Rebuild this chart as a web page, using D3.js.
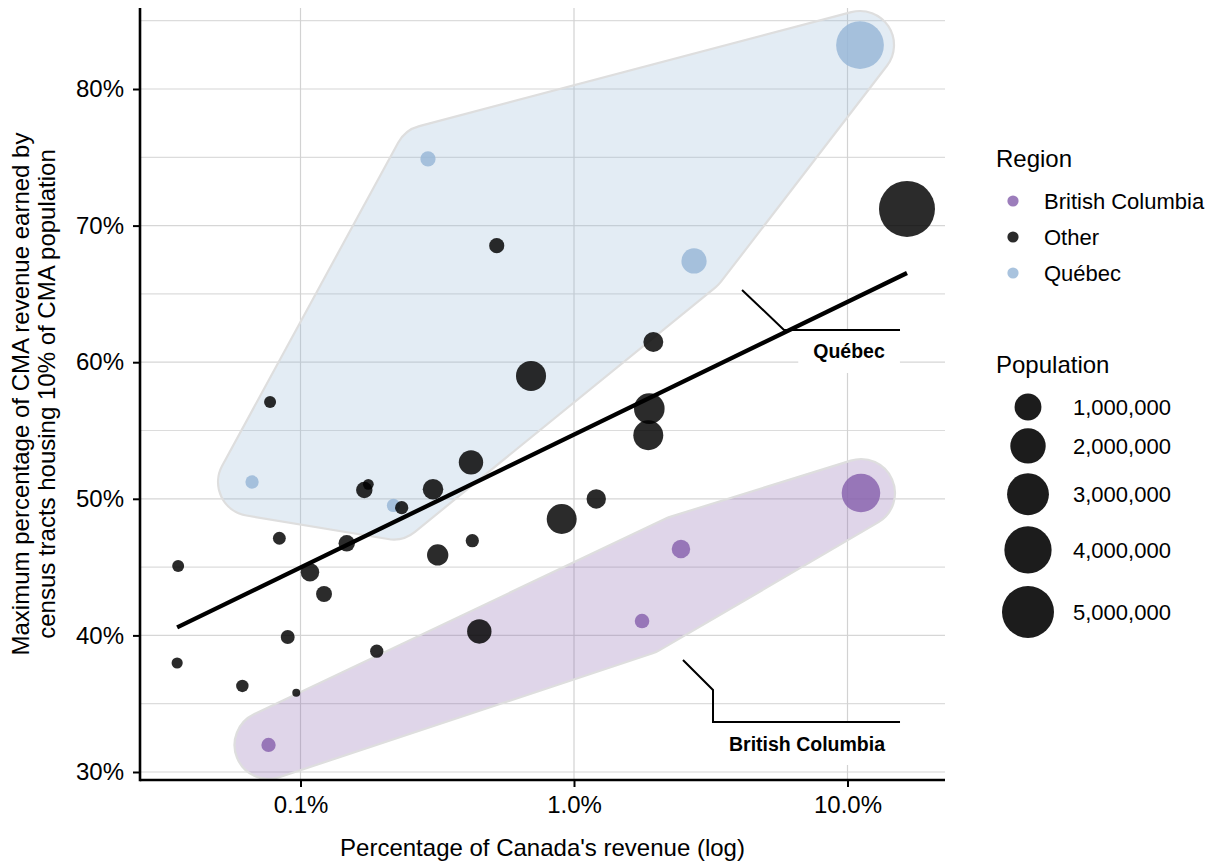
<!DOCTYPE html>
<html>
<head>
<meta charset="utf-8">
<script src="https://cdn.jsdelivr.net/npm/d3@7"></script>
<style>
  html, body { margin: 0; padding: 0; background: #fff; }
  svg { display: block; font-family: "Liberation Sans", Arial, Helvetica, sans-serif; }
</style>
</head>
<body>
<svg id="chart" width="1214" height="863"></svg>
<script>
// ---------------- data ----------------
const regions = ["British Columbia", "Other", "Québec"];
const regionColors = ["#8863ad", "#000000", "#97b7d7"];

// one entry per CMA
const pointRegion = [
  "Québec","Québec","Québec","Québec","Québec",
  "British Columbia","British Columbia","British Columbia","British Columbia",
  "Other","Other","Other","Other","Other","Other","Other","Other","Other","Other",
  "Other","Other","Other","Other","Other","Other","Other","Other","Other","Other",
  "Other","Other","Other","Other","Other","Other","Other"
];
// percentage of Canada's revenue (x, log)
const pointShare = [
  0.2925, 0.0665, 0.2188, 2.747, 11.11,
  0.0764, 1.773, 2.461, 11.20,
  0.0774, 0.1711, 0.1770, 0.2344, 0.3051, 0.0837, 0.1476, 0.3174, 0.0357, 0.1083,
  0.1219, 0.0898, 0.0354, 0.1900, 0.0613, 0.0965, 0.4506, 1.206, 0.9016, 0.4248,
  0.5218, 0.6964, 1.950, 1.885, 1.869, 0.4201, 16.50
];
// maximum percentage of CMA revenue earned by tracts housing 10% of population (y)
const pointMax = [
  74.88, 51.23, 49.51, 67.41, 83.22,
  31.98, 41.05, 46.32, 50.42,
  57.09, 50.64, 51.06, 49.35, 50.70, 47.11, 46.74, 45.89, 45.08, 44.62,
  43.03, 39.88, 37.98, 38.84, 36.30, 35.81, 40.29, 49.99, 48.52, 46.93,
  68.53, 58.99, 61.48, 56.60, 54.65, 52.67, 71.22
];
const pointPop = [
  230000, 170000, 170000, 850000, 4100000,
  200000, 210000, 380000, 2460000,
  140000, 280000, 120000, 170000, 500000, 160000, 280000, 550000, 140000, 380000,
  260000, 190000, 125000, 170000, 150000, 100000, 780000, 430000, 1320000, 170000,
  230000, 1330000, 460000, 1390000, 1320000, 780000, 5930000
];

const yTicks = [30, 40, 50, 60, 70, 80];
const yMinor = [35, 45, 55, 65, 75, 85];
const xTicks = [0.1, 1, 10];
const popBreaks = [1000000, 2000000, 3000000, 4000000, 5000000];

// hull annotations (data coordinates)
const annoLabels = ["Québec", "British Columbia"];
const annoPaths = [
  [[4.115, 65.29], [5.86, 62.36], [15.56, 62.36]],
  [[2.503, 38.20], [3.223, 36.00], [3.223, 33.66], [15.56, 33.66]]
];
const annoText = [[10.13, 60.31], [7.11, 31.54]];

// ---------------- layout ----------------
const svg = d3.select("#chart");
const pL = 140, pR = 945, pT = 8, pB = 780;

const x = d3.scaleLog()
  .domain([Math.pow(10, -1 - 160.5 / 273.5), Math.pow(10, 1 + 644.5 / 273.5 - 2)])
  .range([pL, pR]);
const y = d3.scaleLinear().domain([29.414, 85.93]).range([pB, pT]);
const color = d3.scaleOrdinal().domain(regions).range(regionColors);
const popExtent = d3.extent(pointPop);
const popNorm = d3.scaleLinear().domain(popExtent).range([0, 1]).clamp(true);
const rNorm = d3.scaleSqrt().domain([0, 1]).range([4, 28]);
const r = p => rNorm(popNorm(p));

const data = pointShare.map((s, i) => ({
  share: s, max: pointMax[i], pop: pointPop[i], region: pointRegion[i]
}));

// ---------------- grid ----------------
const grid = svg.append("g");
grid.selectAll("line.hmin").data(yMinor).join("line")
  .attr("x1", pL + 1).attr("x2", pR).attr("y1", d => y(d)).attr("y2", d => y(d))
  .attr("stroke", "#dcdcdc").attr("stroke-width", 1.2);
grid.selectAll("line.hmaj").data(yTicks).join("line")
  .attr("x1", pL + 1).attr("x2", pR).attr("y1", d => y(d)).attr("y2", d => y(d))
  .attr("stroke", "#d6d6d6").attr("stroke-width", 1.2);
grid.selectAll("line.v").data(xTicks).join("line")
  .attr("x1", d => x(d)).attr("x2", d => x(d)).attr("y1", pT).attr("y2", pB)
  .attr("stroke", "#d2d2d2").attr("stroke-width", 1.2);

// ---------------- hulls ----------------
function roundedHull(pts, d) {
  const hull = d3.polygonHull(pts);
  const n = hull.length;
  const c = d3.polygonCentroid(hull);
  let shoelace = 0;
  for (let i = 0; i < n; i++) {
    const a = hull[i], b = hull[(i + 1) % n];
    shoelace += a[0] * b[1] - b[0] * a[1];
  }
  const sweep = shoelace > 0 ? 1 : 0;
  const normals = hull.map((a, i) => {
    const b = hull[(i + 1) % n];
    const dx = b[0] - a[0], dy = b[1] - a[1], len = Math.hypot(dx, dy);
    let nx = dy / len, ny = -dx / len;
    const mx = (a[0] + b[0]) / 2 - c[0], my = (a[1] + b[1]) / 2 - c[1];
    if (nx * mx + ny * my < 0) { nx = -nx; ny = -ny; }
    return [nx, ny];
  });
  let path = `M${hull[0][0] + d * normals[0][0]},${hull[0][1] + d * normals[0][1]}`;
  for (let i = 0; i < n; i++) {
    const b = hull[(i + 1) % n];
    const nA = normals[i], nB = normals[(i + 1) % n];
    path += `L${b[0] + d * nA[0]},${b[1] + d * nA[1]}`;
    path += `A${d},${d} 0 0 ${sweep} ${b[0] + d * nB[0]},${b[1] + d * nB[1]}`;
  }
  return path + "Z";
}

const hullRegions = ["Québec", "British Columbia"];
svg.append("g").selectAll("path").data(hullRegions).join("path")
  .attr("d", reg => roundedHull(data.filter(p => p.region === reg).map(p => [x(p.share), y(p.max)]), 34))
  .attr("fill", reg => color(reg)).attr("fill-opacity", 0.27)
  .attr("stroke", "#dedede").attr("stroke-width", 2.2);

// ---------------- points ----------------
svg.append("g").selectAll("circle").data(data).join("circle")
  .attr("cx", d => x(d.share)).attr("cy", d => y(d.max)).attr("r", d => r(d.pop))
  .attr("fill", d => color(d.region)).attr("fill-opacity", 0.83);

// ---------------- regression line ----------------
const lx = data.map(d => Math.log10(d.share)), ly = data.map(d => d.max);
const mxv = d3.mean(lx), myv = d3.mean(ly);
let sxy = 0, sxx = 0;
lx.forEach((v, i) => { sxy += (v - mxv) * (ly[i] - myv); sxx += (v - mxv) * (v - mxv); });
const slope = sxy / sxx, intercept = myv - slope * mxv;
const xr = d3.extent(pointShare);
svg.append("line")
  .attr("x1", x(xr[0])).attr("y1", y(intercept + slope * Math.log10(xr[0])))
  .attr("x2", x(xr[1])).attr("y2", y(intercept + slope * Math.log10(xr[1])))
  .attr("stroke", "#000").attr("stroke-width", 4.3);

// ---------------- annotations ----------------
const anno = svg.append("g");
annoLabels.forEach((lab, i) => {
  const pts = annoPaths[i];
  const t = anno.append("text")
    .attr("x", x(annoText[i][0])).attr("y", y(annoText[i][1]))
    .attr("text-anchor", "middle").attr("font-weight", "bold").attr("font-size", 19.5)
    .attr("fill", "#000").text(lab);
  const bb = t.node().getBBox();
  const lastY = y(pts[pts.length - 1][1]);
  anno.insert("rect", "text")
    .attr("x", bb.x - 15).attr("width", bb.width + 30)
    .attr("y", lastY + 1).attr("height", 42).attr("fill", "#fff");
  anno.append("path")
    .attr("d", d3.line().x(p => x(p[0])).y(p => y(p[1]))(pts))
    .attr("fill", "none").attr("stroke", "#000").attr("stroke-width", 2);
});
anno.selectAll("text").raise();

// ---------------- axes ----------------
const yAxis = svg.append("g").attr("transform", `translate(${pL},0)`)
  .call(d3.axisLeft(y).tickValues(yTicks).tickFormat(d => d + "%").tickSize(7).tickSizeOuter(0).tickPadding(9));
const xAxis = svg.append("g").attr("transform", `translate(0,${pB})`)
  .call(d3.axisBottom(x).tickValues(xTicks).tickFormat(d => d3.format(".1f")(d) + "%").tickSize(7).tickSizeOuter(0).tickPadding(9));
[yAxis, xAxis].forEach(g => {
  g.select(".domain").attr("stroke", "#000").attr("stroke-width", 2.6);
  g.selectAll(".tick line").attr("stroke", "#000").attr("stroke-width", 2);
  g.selectAll(".tick text").attr("fill", "#000").attr("font-size", 24)
    .attr("font-family", "Liberation Sans, Arial, Helvetica, sans-serif");
});
xAxis.select(".domain").attr("d", `M${pL},0H${pR}`);
yAxis.select(".domain").attr("d", `M0,${pT}V${pB + 1.3}`);

svg.append("text").attr("x", (pL + pR) / 2).attr("y", 856)
  .attr("text-anchor", "middle").attr("font-size", 24).text("Percentage of Canada's revenue (log)");
const yt = svg.append("text").attr("transform", `translate(0,${(pT + pB) / 2}) rotate(-90)`)
  .attr("text-anchor", "middle").attr("font-size", 24);
yt.append("tspan").attr("x", 0).attr("y", 28.6).text("Maximum percentage of CMA revenue earned by");
yt.append("tspan").attr("x", 0).attr("y", 55.2).text("census tracts housing 10% of CMA population");

// ---------------- legends ----------------
const leg = svg.append("g");
leg.append("text").attr("x", 996).attr("y", 167).attr("font-size", 24).text("Region");
regions.forEach((reg, i) => {
  const cy = 201 + i * 36;
  leg.append("circle").attr("cx", 1013).attr("cy", cy).attr("r", 5.6)
    .attr("fill", color(reg)).attr("fill-opacity", 0.83);
  leg.append("text").attr("x", 1044).attr("y", cy).attr("dy", "0.35em")
    .attr("font-size", 22).text(reg);
});
leg.append("text").attr("x", 996).attr("y", 373).attr("font-size", 24).text("Population");
let cyPrev = null, rPrev = null;
popBreaks.forEach((p, i) => {
  const rr = r(p);
  const cy = i === 0 ? 407 : cyPrev + 1.25 * (rPrev + rr);
  leg.append("circle").attr("cx", 1028).attr("cy", cy).attr("r", rr).attr("fill", "#1c1c1c");
  leg.append("text").attr("x", 1073).attr("y", cy).attr("dy", "0.35em")
    .attr("font-size", 22).text(d3.format(",")(p));
  cyPrev = cy; rPrev = rr;
});
</script>
</body>
</html>
